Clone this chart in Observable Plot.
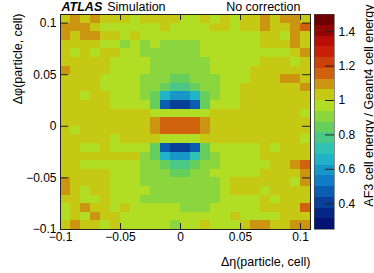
<!DOCTYPE html>
<html><head><meta charset="utf-8">
<script src="https://cdn.jsdelivr.net/npm/d3@7"></script>
<script src="https://cdn.jsdelivr.net/npm/@observablehq/plot@0.6"></script>
<style>
html,body{margin:0;padding:0;background:#fff;}
#chart{position:relative;width:374px;height:273px;}
#chart svg{position:absolute;left:0;top:0;}
</style></head><body><div id="chart"></div>
<script>
// ---- axes / binning ----
const etaRange = [-0.1, 0.1083333];
const phiRange = [-0.1, 0.1083333];
const nBins = 25;
const xTicks = [-0.1, -0.05, 0, 0.05, 0.1];
const yTicks = [-0.1, -0.05, 0, 0.05, 0.1];
const zRange = [0.25, 1.5];
const nContours = 20;
const zTicks = [0.4, 0.6, 0.8, 1, 1.2, 1.4];
// ROOT kRainBow palette stops
const rainbowStops = [0, 0.125, 0.25, 0.375, 0.5, 0.625, 0.75, 0.875, 1];
const rainbowRed   = [0, 5, 15, 35, 102, 196, 208, 199, 110];
const rainbowGreen = [0, 48, 124, 192, 206, 226, 97, 16, 0];
const rainbowBlue  = [99, 142, 198, 201, 90, 22, 13, 8, 2];
// ---- cell ratios, rows from top (Δφ high) to bottom, columns Δη low -> high ----
const ratioRows = [
[1.03,1.09,1.03,1.09,1.03,1.03,1.03,0.97,1.03,1.03,1.03,1.03,0.97,0.97,1.03,0.97,1.03,0.97,1.03,1.03,1.09,1.03,1.09,1.09,1.03],
[1.09,1.09,1.09,1.03,0.97,0.97,0.97,0.97,0.97,0.97,1.03,0.97,0.97,0.97,0.97,1.03,1.03,0.97,1.03,1.03,1.09,1.03,1.03,1.09,1.15],
[1.09,1.03,1.09,1.09,1.03,1.03,0.97,1.03,0.97,0.97,0.97,0.97,0.97,0.97,0.97,0.97,0.97,0.97,0.97,0.97,1.03,1.03,0.97,1.09,1.03],
[1.03,1.03,1.03,1.03,0.97,0.97,0.91,0.97,0.91,0.97,0.91,0.91,0.91,0.91,0.97,0.97,0.97,0.97,0.97,0.97,1.03,1.03,1.03,1.09,1.03],
[1.03,0.97,1.03,0.97,1.03,1.03,0.97,0.97,0.91,0.91,0.91,0.91,0.91,0.91,0.97,0.97,0.97,0.97,0.97,0.97,0.97,0.97,0.97,1.03,1.09],
[1.03,1.03,1.03,1.03,1.03,0.97,0.97,0.97,0.97,0.91,0.91,0.91,0.91,0.91,0.91,0.97,0.97,0.97,0.97,0.97,1.03,1.03,1.03,0.97,1.03],
[1.09,1.03,1.03,1.03,1.03,0.97,0.97,0.97,0.97,0.91,0.91,0.91,0.91,0.91,0.91,0.97,0.97,0.97,0.97,1.03,1.03,1.03,1.03,1.03,1.03],
[1.03,1.03,1.03,1.03,0.97,0.97,0.97,0.97,0.91,0.91,0.91,0.84,0.84,0.91,0.91,0.91,0.97,0.97,0.97,1.03,1.03,1.03,1.09,1.09,1.03],
[1.03,1.03,1.03,1.03,0.97,0.97,0.97,0.97,0.91,0.91,0.84,0.78,0.78,0.84,0.91,0.91,0.97,0.97,1.03,1.03,1.03,1.03,1.03,1.03,1.09],
[1.03,1.03,0.97,1.03,1.03,0.97,0.97,0.97,0.91,0.84,0.66,0.59,0.59,0.66,0.84,0.91,0.97,0.97,1.03,1.03,1.03,1.03,1.03,1.03,1.03],
[1.03,1.03,1.03,1.03,1.03,0.97,0.97,0.97,0.97,0.84,0.47,0.40,0.40,0.47,0.84,0.97,0.97,0.97,1.03,1.03,1.03,1.03,1.03,1.03,1.03],
[1.03,1.03,1.03,1.03,1.03,1.03,1.03,1.03,1.03,0.97,0.97,0.97,0.97,0.97,0.97,1.03,1.03,1.03,1.03,1.03,1.03,1.03,1.03,1.03,0.97],
[1.03,1.03,1.03,1.03,1.03,1.03,1.03,1.03,1.03,1.09,1.15,1.15,1.15,1.15,1.09,1.03,1.03,1.03,1.03,1.03,1.03,1.03,1.03,1.03,1.03],
[1.03,0.97,1.03,1.03,1.03,1.03,1.03,1.03,1.03,1.09,1.15,1.15,1.15,1.15,1.09,1.03,1.03,1.03,1.03,1.03,1.03,1.03,1.03,1.03,1.03],
[1.03,1.03,1.03,1.03,1.03,0.97,1.03,1.03,1.03,1.03,0.97,0.97,0.97,0.97,1.03,1.03,1.03,1.03,1.03,1.03,1.03,1.03,1.03,1.03,0.97],
[1.03,1.03,0.97,0.97,1.03,0.97,0.97,0.97,0.97,0.84,0.47,0.40,0.40,0.47,0.84,0.97,0.97,0.97,0.97,0.97,1.03,0.97,1.03,1.03,1.03],
[1.03,1.03,1.03,1.03,1.03,1.03,1.03,1.03,0.91,0.84,0.66,0.59,0.59,0.72,0.84,0.91,0.97,0.97,0.97,0.97,1.03,1.03,1.03,1.03,1.03],
[1.03,1.03,0.97,0.97,0.97,0.97,0.97,0.97,0.91,0.91,0.84,0.78,0.78,0.84,0.91,0.91,0.97,0.97,0.97,0.97,0.97,1.03,1.03,1.09,1.15],
[1.03,1.03,1.03,1.03,1.03,0.97,0.97,0.97,0.91,0.91,0.91,0.84,0.84,0.91,0.91,0.97,0.97,0.97,0.97,0.97,1.03,1.03,1.03,1.03,1.09],
[1.09,1.03,1.03,1.03,1.03,0.97,0.97,0.97,0.91,0.91,0.91,0.91,0.91,0.91,0.91,0.91,0.97,1.03,1.03,1.03,1.03,1.03,1.03,0.97,1.09],
[1.09,1.03,0.97,1.03,1.03,0.97,0.97,0.97,0.97,0.91,0.91,0.91,0.91,0.91,0.91,0.91,0.97,1.03,1.03,1.03,0.97,1.03,1.03,1.03,1.03],
[1.03,1.03,0.97,0.97,1.03,0.97,0.97,0.97,0.91,0.91,0.91,0.91,0.91,0.91,0.91,0.91,0.97,0.97,0.97,0.97,1.03,0.97,1.03,1.03,1.03],
[0.97,1.03,1.09,1.03,1.03,0.97,1.03,0.97,0.97,0.97,0.97,0.97,0.91,0.91,0.91,0.97,0.97,0.97,0.97,0.97,1.03,1.03,1.03,1.03,1.15],
[0.97,1.03,0.97,1.09,1.03,1.03,0.97,0.97,0.97,0.97,0.97,0.97,0.97,0.97,0.97,0.97,0.97,1.03,0.97,0.97,0.97,0.97,1.03,1.03,1.03],
[1.03,1.09,1.03,1.03,0.97,1.03,0.97,0.97,0.97,0.97,0.97,0.91,0.97,0.97,1.03,0.97,0.97,0.97,1.03,1.09,1.09,1.03,1.03,1.09,1.09]
];
// ---- labels ----
const xTitle = "Δη(particle, cell)";
const yTitle = "Δφ(particle, cell)";
const zTitle = "AF3 cell energy / Geant4 cell energy";
const expLabel = "ATLAS";
const expSub = "Simulation";
const corrLabel = "No correction";

// ---- build ----
const W = 374, H = 273;
const M = {top: 14, right: 64, bottom: 44, left: 60};
const font = "'Liberation Sans', Arial, Helvetica, sans-serif";
const binW = (etaRange[1] - etaRange[0]) / nBins;
const binH = (phiRange[1] - phiRange[0]) / nBins;
const cells = [];
ratioRows.forEach((row, r) => row.forEach((v, c) => cells.push({
  x1: etaRange[0] + c * binW, x2: etaRange[0] + (c + 1) * binW,
  y1: phiRange[1] - (r + 1) * binH, y2: phiRange[1] - r * binH, v
})));
const zStep = (zRange[1] - zRange[0]) / nContours;
const thresholds = d3.range(1, nContours).map(i => zRange[0] + i * zStep);
const interp = d3.scaleLinear().domain(rainbowStops)
  .range(rainbowStops.map((s, i) => d3.rgb(rainbowRed[i], rainbowGreen[i], rainbowBlue[i]).formatHex()))
  .interpolate(d3.interpolateRgb);
const palette = d3.range(nContours).map(i => interp((i + 0.99) / nContours));
const colorOpt = {type: "threshold", domain: thresholds, range: palette};

const pxX = (W - M.left - M.right) / (etaRange[1] - etaRange[0]);
const pxY = (H - M.top - M.bottom) / (phiRange[1] - phiRange[0]);
const fmt = d => d === 0 ? "0" : d3.format("")(d);

const main = Plot.plot({
  width: W, height: H,
  marginTop: M.top, marginRight: M.right, marginBottom: M.bottom, marginLeft: M.left,
  style: {fontFamily: font, fontSize: "12px", background: "white", color: "black"},
  x: {domain: etaRange},
  y: {domain: phiRange},
  color: colorOpt,
  marks: [
    Plot.rect(cells, {x1: "x1", x2: "x2", y1: "y1", y2: "y2", fill: "v", shapeRendering: "crispEdges"}),
    Plot.frame({stroke: "#222", strokeWidth: 1}),
    Plot.ruleY(yTicks, {x1: etaRange[0], x2: etaRange[0] + 8 / pxX, stroke: "#222"}),
    Plot.ruleY(yTicks, {x1: etaRange[1] - 8 / pxX, x2: etaRange[1], stroke: "#222"}),
    Plot.ruleX(xTicks, {y1: phiRange[0], y2: phiRange[0] + 6 / pxY, stroke: "#222"}),
    Plot.ruleX(xTicks, {y1: phiRange[1] - 6 / pxY, y2: phiRange[1], stroke: "#222"}),
    Plot.axisX({ticks: xTicks, tickSize: 0, tickPadding: 3, tickFormat: fmt, label: null}),
    Plot.axisY({ticks: yTicks, tickSize: 0, tickPadding: 4, tickFormat: fmt, label: null}),
    Plot.text([xTitle], {frameAnchor: "bottom-right", dy: 32, textAnchor: "end", lineAnchor: "middle", fontSize: 12.5}),
    Plot.text([yTitle], {frameAnchor: "top-left", dx: -43, dy: -1, rotate: -90, textAnchor: "end", lineAnchor: "middle", fontSize: 12.5}),
    Plot.text([expLabel], {frameAnchor: "top-left", dx: 1, dy: -7.8, textAnchor: "start", lineAnchor: "middle", fontWeight: "bold", fontStyle: "italic", fontSize: 12.5}),
    Plot.text([expSub], {frameAnchor: "top-left", dx: 46.7, dy: -7.8, textAnchor: "start", lineAnchor: "middle", fontSize: 12.5}),
    Plot.text([corrLabel], {frameAnchor: "top-right", dx: -10, dy: -7.8, textAnchor: "end", lineAnchor: "middle", fontSize: 12.5})
  ]
});

const bands = d3.range(nContours).map(i => ({lo: zRange[0] + i * zStep, hi: zRange[0] + (i + 1) * zStep, mid: zRange[0] + (i + 0.5) * zStep}));
const bar = Plot.plot({
  width: W, height: H,
  marginTop: M.top, marginRight: 40, marginBottom: M.bottom, marginLeft: 314,
  style: {fontFamily: font, fontSize: "12px", background: "transparent", color: "black"},
  x: {domain: [0, 1], axis: null},
  y: {domain: zRange},
  color: colorOpt,
  marks: [
    Plot.rect(bands, {x1: 0, x2: 1, y1: "lo", y2: "hi", fill: "mid", shapeRendering: "crispEdges"}),
    Plot.frame({stroke: "#444", strokeWidth: 0.6}),
    Plot.ruleY(zTicks, {x1: 1 - 9 / 20, x2: 1, stroke: "#222"}),
    Plot.axisY({anchor: "right", ticks: zTicks, tickSize: 0, tickPadding: 4, tickFormat: d3.format(""), label: null}),
    Plot.text([zTitle], {frameAnchor: "top-right", dx: 34, dy: -10, rotate: -90, textAnchor: "end", lineAnchor: "middle", fontSize: 12.5})
  ]
});
const host = document.getElementById("chart");
host.appendChild(main);
host.appendChild(bar);
</script></body></html>
